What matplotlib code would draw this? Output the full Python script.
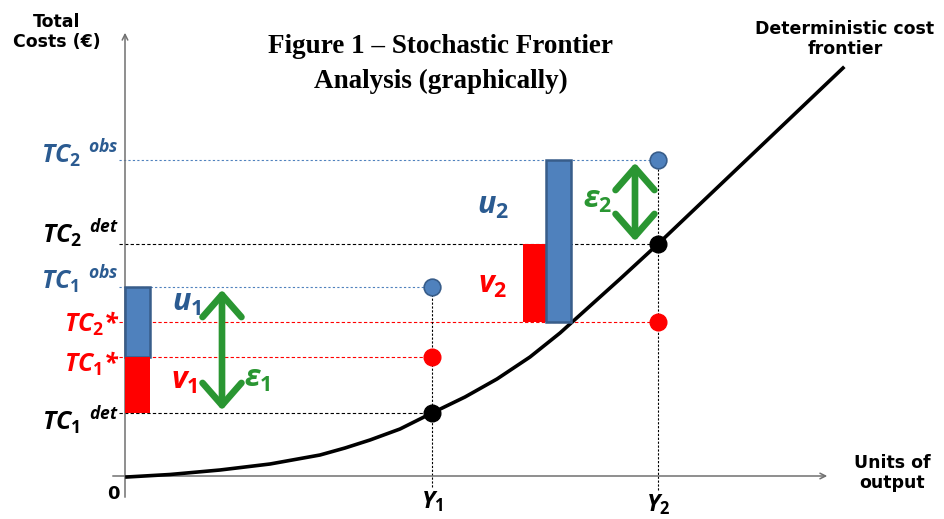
"""Stochastic frontier analysis sketch."""
import matplotlib
matplotlib.use("Agg")
from matplotlib import pyplot as plt
from matplotlib.patches import FancyArrowPatch

plt.rcParams["mathtext.fontset"] = "custom"
plt.rcParams["mathtext.it"] = "Open Sans:italic:bold"
plt.rcParams["mathtext.rm"] = "Open Sans:bold"
plt.rcParams["mathtext.bf"] = "Open Sans:bold"

# output levels and cost levels (diagram units)
Y1, Y2 = 305, 531
TC1_det, TC1_star, TC1_obs = 64, 120, 190
TC2_det, TC2_star, TC2_obs = 233, 155, 317

# deterministic cost frontier
frontier_x = [0, 43, 93, 143, 193, 218, 243, 273, 305, 338, 370, 403, 433, 463, 493, 531, 716]
frontier_y = [0, 2.5, 7, 13, 22, 29, 37, 48, 64, 80, 98, 120, 144, 171, 198, 233, 409]

BLUE = "#4F81BD"
BLUE_EDGE = "#385D8A"
BLUE_TEXT = "#2B5B91"
RED = "#FF0000"
GREEN = "#2A9632"

fig = plt.figure(figsize=(9.45, 5.19), dpi=100)
ax = fig.add_axes([0, 0, 1, 1])
ax.set_xlim(-127, 818)
ax.set_ylim(-42, 477)
ax.axis("off")

# axes with open arrow heads
ax.annotate("", xy=(-2, 447), xytext=(-2, -23),
            arrowprops=dict(arrowstyle="->", color="#707070", lw=1.1))
ax.annotate("", xy=(703, 1), xytext=(-17, 1),
            arrowprops=dict(arrowstyle="->", color="#707070", lw=1.1))

# guide lines
ax.hlines(TC2_obs, -8, Y2, colors=BLUE, linestyles=(0, (2, 2)), lw=0.8)
ax.hlines(TC2_det, -8, Y2, colors="black", linestyles=(0, (3, 2)), lw=0.8)
ax.hlines(TC1_obs, -8, Y1, colors=BLUE, linestyles=(0, (2, 2)), lw=0.8)
ax.hlines(TC2_star, -8, Y2, colors=RED, linestyles=(0, (3, 2)), lw=0.8)
ax.hlines(TC1_star, -8, Y1, colors=RED, linestyles=(0, (3, 2)), lw=0.8)
ax.hlines(TC1_det, -8, Y1, colors="black", linestyles=(0, (3, 2)), lw=0.8)
ax.vlines(Y1, -10, TC1_obs, colors="black", linestyles=(0, (2, 1.5)), lw=0.8)
ax.vlines(Y2, -13, TC2_obs, colors="black", linestyles=(0, (2, 1.5)), lw=0.8)

# frontier
ax.plot(frontier_x, frontier_y, color="black", lw=2.6, solid_joinstyle="round", zorder=3)

# error components as bars
ax.bar(-2, TC1_obs - TC1_star, width=25, bottom=TC1_star, align="edge",
       color=BLUE, edgecolor=BLUE_EDGE, lw=1.8, zorder=4)
ax.bar(-2, TC1_star - TC1_det, width=25, bottom=TC1_det, align="edge",
       color=RED, lw=0, zorder=4)
ax.bar(396, TC2_det - TC2_star, width=24, bottom=TC2_star, align="edge",
       color=RED, lw=0, zorder=4)
ax.bar(419, TC2_obs - TC2_star, width=25, bottom=TC2_star, align="edge",
       color=BLUE, edgecolor=BLUE_EDGE, lw=1.8, zorder=4)

# points
ax.plot([Y1, Y2], [TC1_obs, TC2_obs], "o", ms=12, color=BLUE, mec=BLUE_EDGE, mew=1.2, zorder=5)
ax.plot([Y1, Y2], [TC1_star, TC2_star], "o", ms=12, color=RED, mec=RED, zorder=5)
ax.plot([Y1, Y2], [TC1_det, TC2_det], "o", ms=12, color="black", zorder=5)

# epsilon arrows
for xa, y0, y1 in [(95, TC1_det, TC1_obs), (508, TC2_det, TC2_obs)]:
    ax.add_patch(FancyArrowPatch((xa, y0), (xa, y1),
                                 arrowstyle="<->,head_length=0.8,head_width=0.7",
                                 color=GREEN, lw=4.8, mutation_scale=20, zorder=5))

# level labels
lab = dict(ha="right", va="center", fontsize=18, family="Open Sans",
           weight="bold", style="italic")
ax.text(-8, 323, r"$TC_2\ {}^{obs}$", color=BLUE_TEXT, **lab)
ax.text(-8, 243, r"$TC_2\ {}^{det}$", color="black", **lab)
ax.text(-8, 197, r"$TC_1\ {}^{obs}$", color=BLUE_TEXT, **lab)
ax.text(-8, 153, r"$TC_2$*", color=RED, **lab)
ax.text(-8, 113, r"$TC_1$*", color=RED, **lab)
ax.text(-8, 56, r"$TC_1\ {}^{det}$", color="black", **lab)

big = dict(ha="center", va="center", fontsize=22)
ax.text(60, 173, r"$u_1$", color=BLUE_TEXT, **big)
ax.text(57, 95, r"$v_1$", color=RED, **big)
ax.text(130, 98, r"$\varepsilon_1$", color=GREEN, **big)
ax.text(366, 270, r"$u_2$", color=BLUE_TEXT, **big)
ax.text(366, 192, r"$v_2$", color=RED, **big)
ax.text(471, 276, r"$\varepsilon_2$", color=GREEN, **big)

# axis tick labels
ax.text(-14, -17, "0", ha="center", va="center", fontsize=13, family="DejaVu Sans", weight="bold")
ax.text(Y1, -25, r"$Y_1$", ha="center", va="center", fontsize=17)
ax.text(Y2, -28, r"$Y_2$", ha="center", va="center", fontsize=17)

txt = dict(ha="center", va="center", fontsize=12.5, family="DejaVu Sans", weight="bold",
           linespacing=1.2)
ax.text(-70, 445, "Total\nCosts (€)", **txt)
ax.text(718, 438, "Deterministic cost\nfrontier", **txt)
ax.text(765, 4, "Units of\noutput", **txt)

ax.text(314, 413, "Figure 1 – Stochastic Frontier\nAnalysis (graphically)",
        ha="center", va="center", fontsize=19.5, family="Liberation Serif",
        weight="bold", linespacing=1.5)

fig.savefig("out.png", dpi=100)
